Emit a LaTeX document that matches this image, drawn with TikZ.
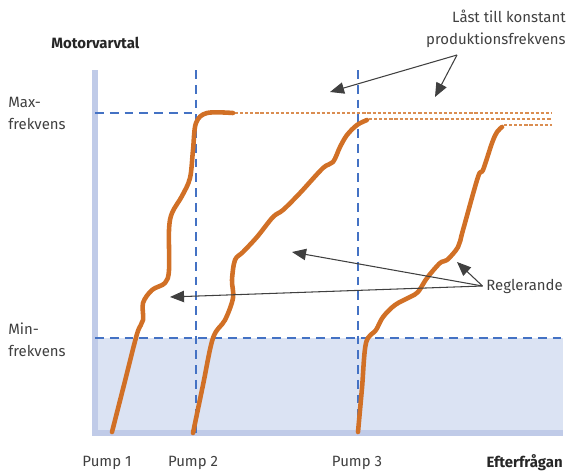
\documentclass[tikz,border=0pt]{standalone}
\usepackage{fontspec}
\setmainfont{Fira Sans}
\usetikzlibrary{arrows.meta}
\definecolor{pumpblue}{RGB}{68,114,196}
\definecolor{pumporange}{RGB}{209,112,38}
\definecolor{axisblue}{RGB}{192,203,232}
\definecolor{areablue}{RGB}{219,227,243}
\definecolor{txtgray}{RGB}{64,64,64}
\begin{document}
\begin{tikzpicture}[x=0.02cm,y=-0.02cm,
	lbl/.style={text=txtgray,font=\fontsize{8.5}{12.5}\selectfont,inner sep=0pt},
	boldlbl/.style={text=black!85,font=\fontsize{8.5}{12.5}\selectfont\bfseries,inner sep=0pt},
	bluedash/.style={draw=pumpblue,line width=1.4pt,dash pattern=on 5pt off 3.4pt},
	orangedash/.style={draw=pumporange!80,line width=0.8pt,dash pattern=on 1.8pt off 1.1pt},
	pumpcurve/.style={draw=pumporange,line width=2.6pt,line cap=round,line join=round},
	pointer/.style={draw=txtgray,line width=0.6pt,-{Triangle[length=8pt,width=6.5pt]}}]
	\useasboundingbox (0,0) rectangle (571,470);
	\fill[areablue] (95,338) rectangle (563,433);
	\draw[axisblue,line width=3pt] (95,70) -- (95,433) -- (563,433);
	\draw[bluedash] (95,113) -- (196,113);
	\draw[bluedash] (95,338) -- (563,338);
	\draw[bluedash] (196,70) -- (196,435);
	\draw[bluedash] (358,70) -- (358,435);
	\draw[orangedash] (235,113) -- (552,113);
	\draw[orangedash] (369,119) -- (552,119);
	\draw[orangedash] (504,125) -- (552,125);
	\draw[pumpcurve] plot[smooth,tension=0.55] coordinates {(112,432) (125,381) (137,334) (143,320) (143,303) (152,290) (165,283) (169,270) (169,230) (172,213) (182,196) (190,178) (193,150) (196,123) (207,113) (233,113)};
	\draw[pumpcurve] plot[smooth,tension=0.55] coordinates {(193,433) (203,385) (213,338) (225,320) (233,298) (232,280) (235,260) (243,252) (257,237) (273,217) (283,210) (300,193) (323,168) (333,162) (340,147) (347,135) (357,125) (367,120)};
	\draw[pumpcurve] plot[smooth,tension=0.55] coordinates {(358,432) (362,388) (366,343) (376,330) (383,317) (395,305) (410,297) (418,292) (427,278) (440,263) (447,260) (458,247) (463,230) (478,177) (483,170) (492,143) (497,132) (502,127)};
	\node[boldlbl,anchor=west] (ylabel) at (51,43) {Motorvarvtal};
	\node[lbl,anchor=west,align=left] (maxf) at (8,113) {Max-\\frekvens};
	\node[lbl,anchor=west,align=left] (minf) at (8,340) {Min-\\frekvens};
	\node[lbl,anchor=east,align=right] (laast) at (566,29) {Låst till konstant\\produktionsfrekvens};
	\node[lbl,anchor=west] (regl) at (486,286) {Reglerande};
	\node[lbl] (pump1) at (107,463) {Pump 1};
	\node[lbl] (pump2) at (193,463) {Pump 2};
	\node[lbl] (pump3) at (357,463) {Pump 3};
	\node[boldlbl,anchor=east] (xlabel) at (563,463) {Efterfrågan};
	\coordinate (laastpt) at (457,55);
	\coordinate (lock1) at (330,92);
	\coordinate (lock2) at (435,97);
	\coordinate (reg1) at (170,297);
	\coordinate (reg2) at (292,252);
	\coordinate (reg3) at (457,262);
	\draw[pointer] (laastpt) -- (lock1);
	\draw[pointer] (laastpt) -- (lock2);
	\draw[pointer] ([xshift=-2pt]regl.west) -- (reg1);
	\draw[pointer] ([xshift=-2pt]regl.west) -- (reg2);
	\draw[pointer] ([xshift=-2pt]regl.west) -- (reg3);
\end{tikzpicture}
\end{document}
